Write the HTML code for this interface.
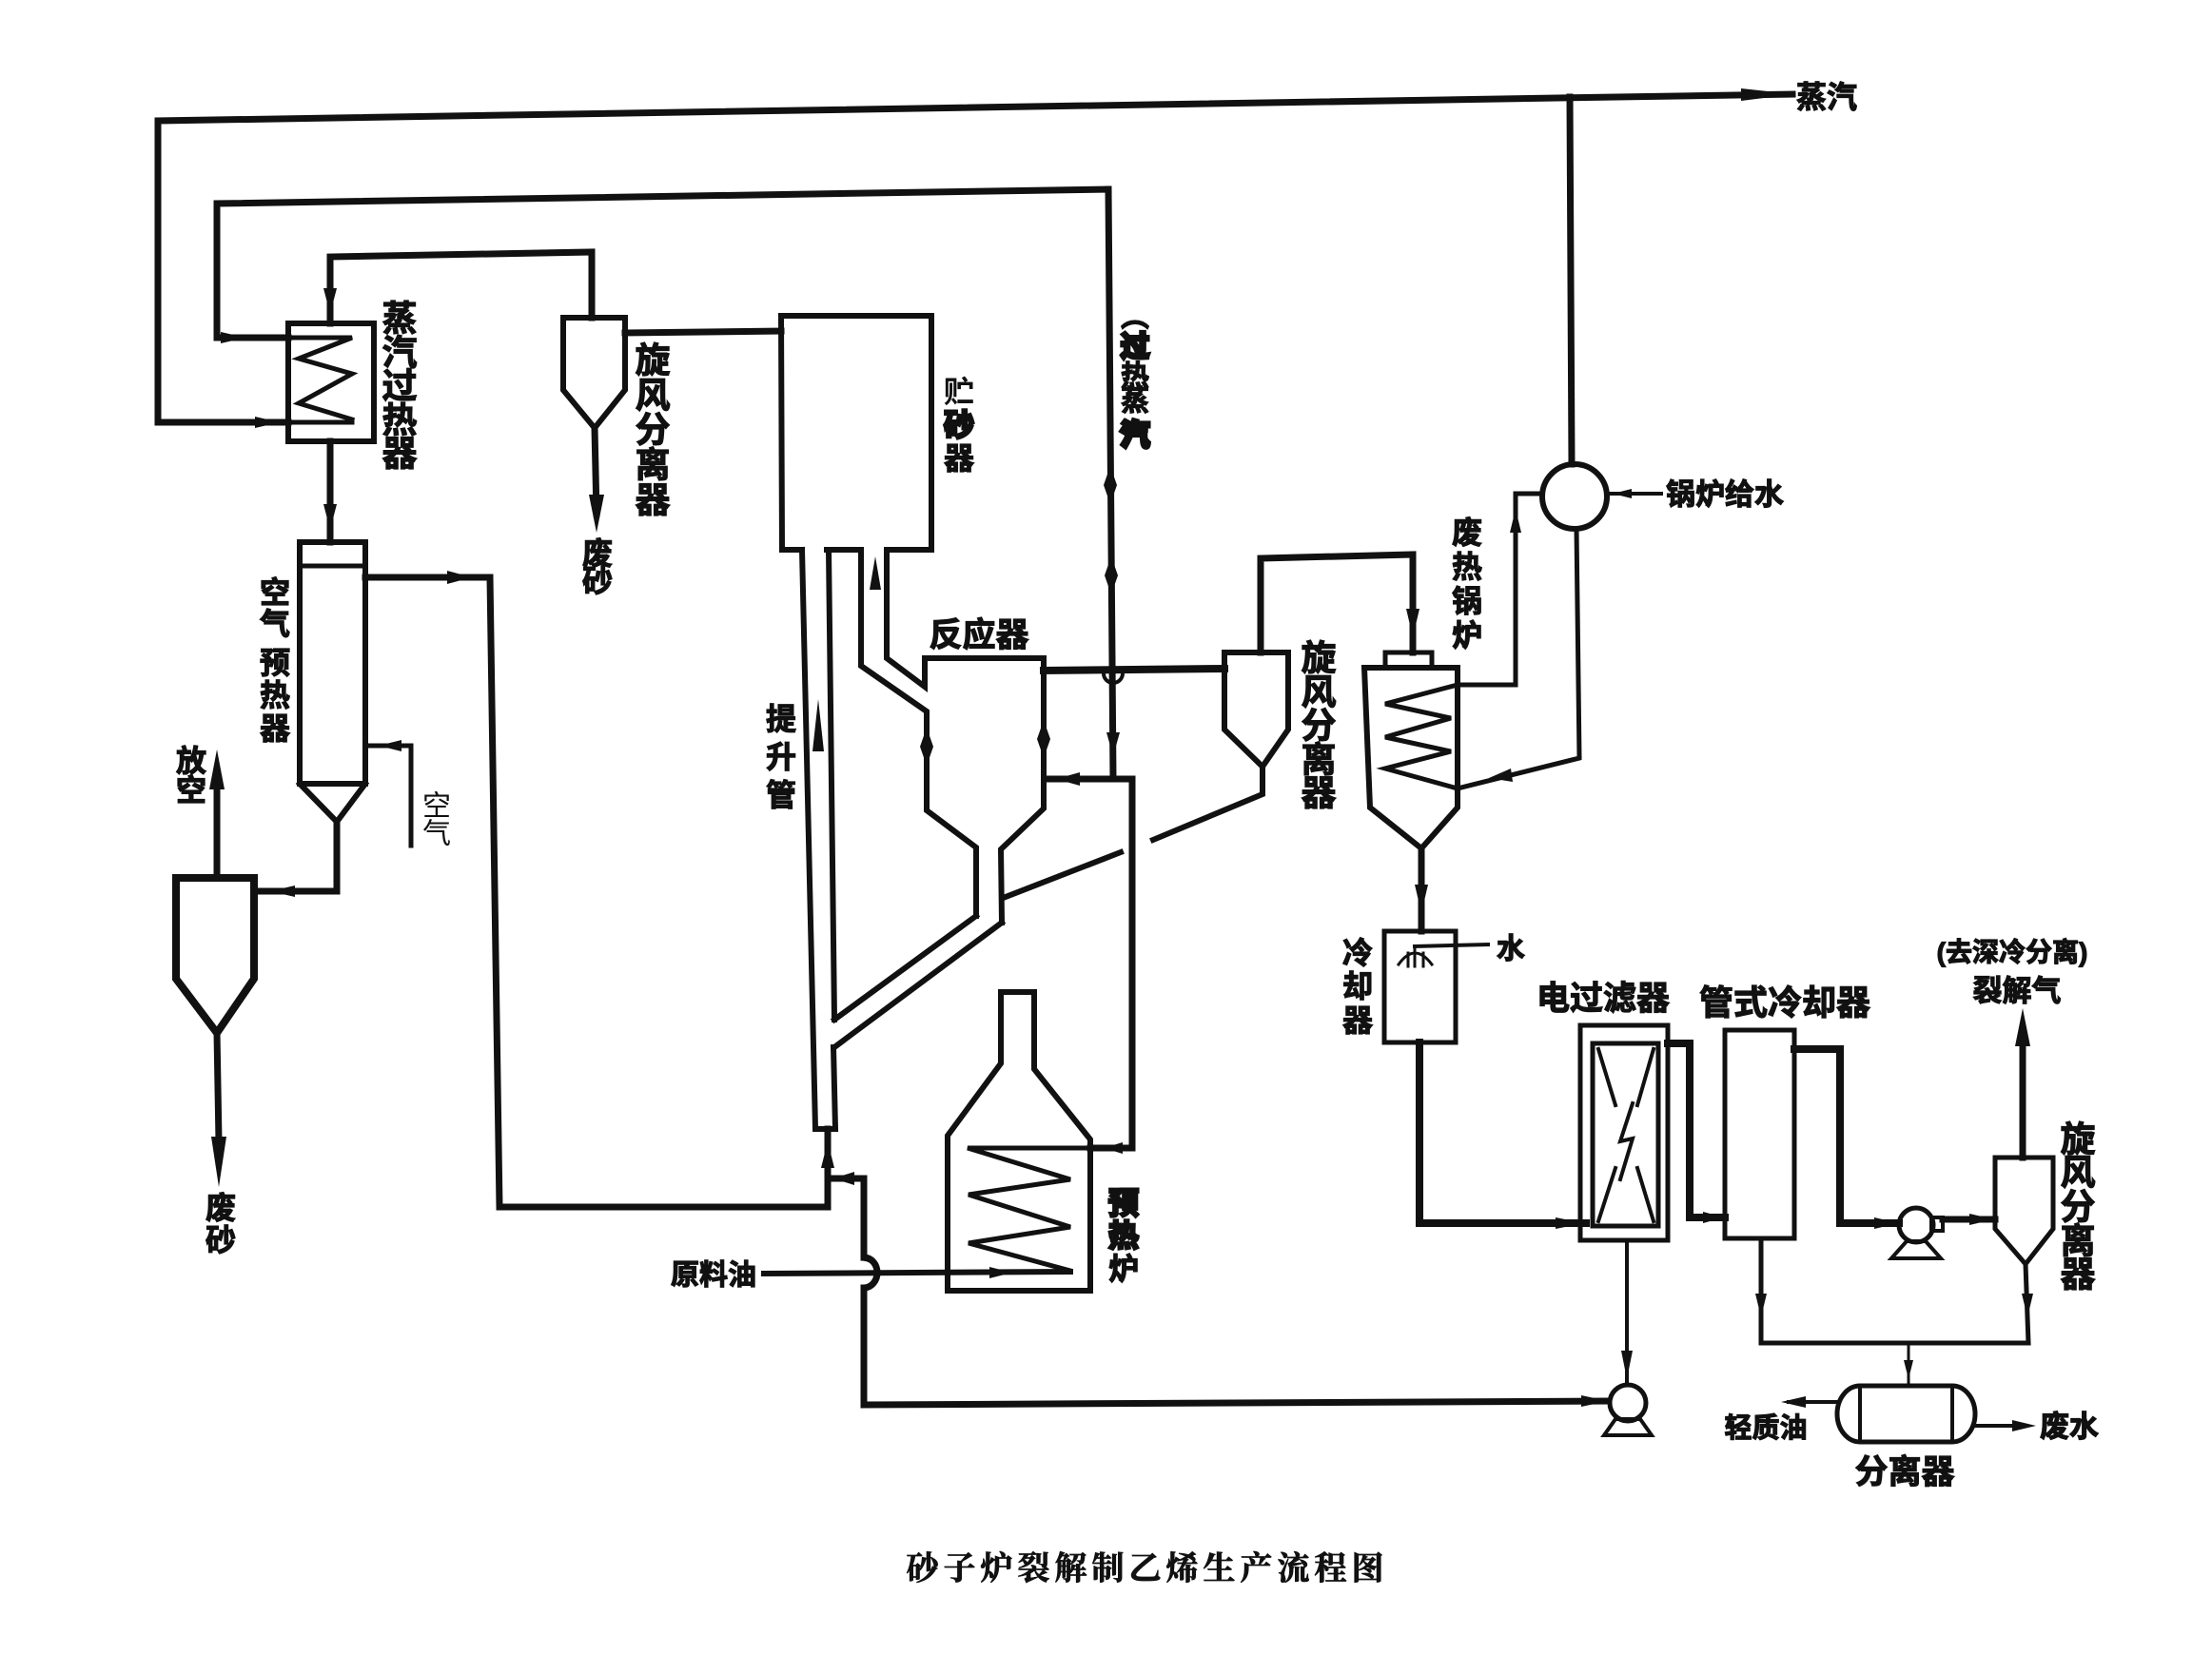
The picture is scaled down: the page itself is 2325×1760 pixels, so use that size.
<!DOCTYPE html>
<html><head><meta charset="utf-8"><style>
html,body{margin:0;padding:0;background:#fff;}
svg{display:block;}
.t{font-family:"Liberation Sans","Noto Sans CJK SC",sans-serif;font-weight:700;fill:#111;stroke:#111;stroke-width:1.2;text-anchor:middle;dominant-baseline:central;}
.n{font-weight:400;stroke-width:0;}
.cap{font-family:"Liberation Serif","Noto Serif CJK SC",serif;font-weight:700;fill:#111;stroke:#111;stroke-width:0.8;text-anchor:middle;dominant-baseline:central;}
</style></head><body>
<svg width="2325" height="1760" viewBox="0 0 2325 1760" xmlns="http://www.w3.org/2000/svg">
<rect width="2325" height="1760" fill="#fff"/>
<g fill="none" stroke="#111" stroke-width="7" stroke-linejoin="miter" stroke-linecap="square">
<polyline points="303,444 166,444 166,127 1884,99"/>
<polyline points="303,355 228,355 228,214 1165,199"/>
<polyline points="1165,199 1170,819"/>
<polyline points="1099,819 1190,819 1190,1207 1146,1207"/>
<polyline points="347,340 347,270 622,265 622,334"/>
<line x1="347" y1="464" x2="347" y2="570"/>
<line x1="657" y1="350" x2="821" y2="348"/>
<line x1="625" y1="450" x2="627" y2="540"/>
<polyline points="384,607 515,607 525,1269 870,1269 870,1187"/>
<polyline points="870,1239 908,1239 908,1322"/>
<path d="M908,1322 A14,16 0 0,1 908,1354 L908,1477 L1690,1473"/>
<polyline points="384,784 432,784 432,889" stroke-width="5"/>
<polyline points="354,864 354,937 267,937"/>
<line x1="228" y1="923" x2="228" y2="820"/>
<line x1="228" y1="1086" x2="230" y2="1200"/>
<rect x="303" y="340" width="90" height="124" stroke-width="6"/>
<polyline points="303,355 370,355 314,377 370,393 314,424 370,441" stroke-width="5"/>
<line x1="303" y1="444" x2="370" y2="444" stroke-width="5"/>
<path d="M592,334 L657,334 L657,410 L625,450 L592,410 Z" stroke-width="6"/>
<path d="M843,578 L822,578 L821,332 L979,332 L979,578 L932,578 M869,578 L905,578" stroke-width="6"/>
<path d="M843,578 L857,1187 L878,1187 L876,1101 M871,578 L877,1072" stroke-width="6"/>
<path d="M877,1072 L1026,963 M877,1101 L1053,970" stroke-width="6"/>
<path d="M905,578 L905,700 L974,748 L974,852 L1026,891 L1026,963" stroke-width="6"/>
<path d="M932,578 L932,692 L972,722 L972,692 L1097,692 L1097,850 L1052,893 L1053,970" stroke-width="6"/>
<path d="M1327,806 L1327,835 L1212,883 M1178,896 L1057,943" stroke-width="6"/>
<line x1="1097" y1="705" x2="1287" y2="703" stroke-width="8"/>
<path d="M1160,708 A10,10 0 0,0 1180,708" stroke-width="4"/>
<path d="M1287,686 L1354,686 L1354,767 L1327,806 L1287,767 Z" stroke-width="6"/>
<polyline points="1325,686 1325,587 1485,583 1485,686"/>
<rect x="1456" y="686" width="49" height="16" stroke-width="5"/>
<path d="M1434,702 L1532,702 L1532,849 L1494,892 L1440,849 Z" stroke-width="6"/>
<polyline points="1532,720 1456,740 1525,755 1456,775 1525,790 1456,808 1532,829" stroke-width="5"/>
<line x1="1494" y1="892" x2="1494" y2="979"/>
<circle cx="1655" cy="522" r="34" stroke-width="6"/>
<line x1="1652" y1="488" x2="1650" y2="102"/>
<line x1="1689" y1="519" x2="1746" y2="519" stroke-width="4"/>
<polyline points="1621,519 1593,519 1593,720 1532,720" stroke-width="5"/>
<polyline points="1657,556 1660,797 1532,829" stroke-width="5"/>
<rect x="1455" y="979" width="75" height="117" stroke-width="5"/>
<path d="M1470,1014 Q1487,990 1505,1014 M1480,1002 L1480,1016 M1487,996 L1487,1016 M1496,1002 L1496,1016" stroke-width="3"/>
<line x1="1487" y1="995" x2="1564" y2="993" stroke-width="4"/>
<polyline points="1492,1096 1492,1286 1667,1286" stroke-width="8"/>
<rect x="1661" y="1078" width="92" height="226" stroke-width="5"/>
<rect x="1674" y="1097" width="69" height="192" stroke-width="5"/>
<path d="M1680,1103 L1698,1162 M1738,1103 L1721,1162 M1698,1228 L1680,1284 M1721,1228 L1738,1284" stroke-width="4"/>
<polyline points="1716,1160 1703,1200 1716,1197 1703,1240" stroke-width="4"/>
<line x1="1710" y1="1304" x2="1710" y2="1456" stroke-width="4"/>
<polyline points="1753,1097 1776,1097 1776,1280 1813,1280" stroke-width="8"/>
<rect x="1813" y="1083" width="73" height="219" stroke-width="5"/>
<polyline points="1886,1103 1934,1103 1934,1286 1996,1286" stroke-width="8"/>
<circle cx="2014" cy="1288" r="18" stroke-width="5"/>
<rect x="2030" y="1280" width="12" height="14" stroke-width="4"/>
<path d="M2004,1305 L2024,1305 L2040,1323 L1988,1323 Z" stroke-width="4"/>
<line x1="2042" y1="1282" x2="2097" y2="1282" stroke-width="7"/>
<path d="M2097,1217 L2158,1217 L2158,1292 L2129,1329 L2097,1292 Z" stroke-width="5"/>
<line x1="2126" y1="1217" x2="2126" y2="1090" stroke-width="7"/>
<polyline points="2129,1329 2132,1412 1851,1412 1851,1302" stroke-width="5"/>
<line x1="2006" y1="1412" x2="2006" y2="1457" stroke-width="3"/>
<path d="M1955,1457 L2052,1457 A24,29.5 0 0,1 2052,1516 L1955,1516 A24,29.5 0 0,1 1955,1457 Z" stroke-width="5"/>
<line x1="1955" y1="1460" x2="1955" y2="1513" stroke-width="4"/>
<line x1="2052" y1="1460" x2="2052" y2="1513" stroke-width="4"/>
<line x1="1931" y1="1474" x2="1880" y2="1474" stroke-width="4"/>
<line x1="2075" y1="1499" x2="2125" y2="1499" stroke-width="4"/>
<circle cx="1711" cy="1475" r="19" stroke-width="5"/>
<path d="M1698,1492 L1724,1492 L1736,1509 L1686,1509 Z" stroke-width="4"/>
<rect x="315" y="570" width="69" height="254" stroke-width="6"/>
<line x1="315" y1="595" x2="384" y2="595" stroke-width="5"/>
<polyline points="315,824 354,864 384,824" stroke-width="6"/>
<path d="M185,923 L267,923 L267,1029 L228,1086 L185,1029 Z" stroke-width="8"/>
<path d="M1052,1118 L1052,1043 L1087,1043 L1087,1124 L1146,1198 L1146,1357 L996,1357 L996,1194 Z" stroke-width="6"/>
<polyline points="1146,1207 1017,1207 1125,1240 1018,1256 1125,1290 1018,1307 1125,1336" stroke-width="5"/>
<line x1="803" y1="1339" x2="1125" y2="1337" stroke-width="6"/>
</g>
<g fill="#111" stroke="none">
<polygon points="1830,93 1886,99 1830,106"/>
<polygon points="268,438 294,444 268,450"/>
<polygon points="232,349 258,355 232,361"/>
<polygon points="340,303 347,330 354,303"/>
<polygon points="340,530 347,557 354,530"/>
<polygon points="619,520 627,560 635,520"/>
<polygon points="470,600 496,607 470,614"/>
<polygon points="863,1228 870,1200 877,1228"/>
<polygon points="898,1232 876,1239 898,1246"/>
<polygon points="422,778 398,784 422,790"/>
<polygon points="310,931 284,937 310,943"/>
<polygon points="220,830 228,788 236,830"/>
<polygon points="222,1195 230,1248 238,1195"/>
<polygon points="1160,510 1167,530 1174,510 1167,490"/>
<polygon points="1161,605 1168,625 1175,605 1168,585"/>
<polygon points="1163,770 1170,795 1177,770"/>
<polygon points="1135,812 1110,819 1135,826"/>
<polygon points="914,620 920,585 926,620"/>
<polygon points="854,790 860,735 866,790"/>
<polygon points="967,785 974,805 981,785 974,765"/>
<polygon points="1090,777 1097,797 1104,777 1097,757"/>
<polygon points="1478,640 1485,670 1492,640"/>
<polygon points="1587,560 1593,535 1599,560"/>
<polygon points="1588,808 1565,818 1590,822"/>
<polygon points="1715,514 1695,519 1715,524"/>
<polygon points="1487,930 1494,960 1501,930"/>
<polygon points="1635,1280 1665,1286 1635,1292"/>
<polygon points="1704,1420 1710,1450 1716,1420"/>
<polygon points="1790,1274 1812,1280 1790,1286"/>
<polygon points="1970,1280 1996,1286 1970,1292"/>
<polygon points="2070,1276 2096,1282 2070,1288"/>
<polygon points="2118,1100 2126,1060 2134,1100"/>
<polygon points="1845,1360 1851,1385 1857,1360"/>
<polygon points="2125,1360 2131,1385 2137,1360"/>
<polygon points="1898,1468 1872,1474 1898,1480"/>
<polygon points="2115,1493 2140,1499 2115,1505"/>
<polygon points="1662,1467 1690,1473 1662,1479"/>
<polygon points="1040,1332 1064,1338 1040,1344"/>
<polygon points="2001,1430 2006,1450 2011,1430"/>
<polygon points="1180,1201 1160,1207 1180,1213"/>
</g>
<text class="t" x="1920" y="102" font-size="32">蒸汽</text>
<g class="t" font-size="37">
<text x="420" y="335">蒸</text><text x="420" y="371">汽</text><text x="420" y="406">过</text><text x="420" y="442">热</text><text x="420" y="477">器</text>
<text x="686" y="379">旋</text><text x="686" y="416">风</text><text x="686" y="452">分</text><text x="686" y="489">离</text><text x="686" y="526">器</text>
<text x="1386" y="692">旋</text><text x="1386" y="728">风</text><text x="1386" y="763">分</text><text x="1386" y="799">离</text><text x="1386" y="834">器</text>
<text x="2184" y="1198">旋</text><text x="2184" y="1233">风</text><text x="2184" y="1269">分</text><text x="2184" y="1305">离</text><text x="2184" y="1340">器</text>
</g>
<g class="t" font-size="32">
<text x="628" y="582">废</text><text x="628" y="611">砂</text>
<text x="1008" y="412" stroke-width="0">贮</text><text x="1008" y="447" stroke-width="3">砂</text><text x="1008" y="482">器</text>
<text x="821" y="756">提</text><text x="821" y="796">升</text><text x="821" y="836">管</text>
<text x="289" y="623">空</text><text x="289" y="656">气</text><text x="289" y="697">预</text><text x="289" y="731">热</text><text x="289" y="766">器</text>
<text x="201" y="800">放</text><text x="201" y="831">空</text>
<text x="232" y="1270">废</text><text x="232" y="1304">砂</text>
<text x="1181" y="1265" stroke-width="3">预</text><text x="1181" y="1299" stroke-width="3">热</text><text x="1181" y="1334">炉</text>
<text x="1427" y="1002">冷</text><text x="1427" y="1037">却</text><text x="1427" y="1073">器</text>
<text x="1542" y="560">废</text><text x="1542" y="596">热</text><text x="1542" y="632">锅</text><text x="1542" y="668">炉</text>
</g>
<g class="t" font-size="30">
<text x="1193" y="334">︵</text>
<text x="1193" y="365" stroke-width="4">过</text>
<text x="1193" y="396">热</text>
<text x="1193" y="422">蒸</text>
<text x="1193" y="458" stroke-width="5">汽</text>
</g>
<text class="t n" x="459" y="848" font-size="30">空</text>
<text class="t n" x="459" y="877" font-size="30">气</text>
<text class="t" x="1029" y="668" font-size="35">反应器</text>
<text class="t" x="750" y="1341" font-size="30">原料油</text>
<text class="t" x="1588" y="998" font-size="30">水</text>
<text class="t" x="1685" y="1050" font-size="35">电过滤器</text>
<text class="t" x="1876" y="1054" font-size="36">管式冷却器</text>
<text class="t" x="2115" y="1001" font-size="28">(去深冷分离)</text>
<text class="t" x="2120" y="1042" font-size="31">裂解气</text>
<text class="t" x="1856" y="1502" font-size="29">轻质油</text>
<text class="t" x="2175" y="1500" font-size="31">废水</text>
<text class="t" x="2002" y="1548" font-size="35">分离器</text>
<text class="t" x="1813" y="520" font-size="31">锅炉给水</text>
<text class="cap" x="1206" y="1650" font-size="34" letter-spacing="5">砂子炉裂解制乙烯生产流程图</text>
</svg>
</body></html>
